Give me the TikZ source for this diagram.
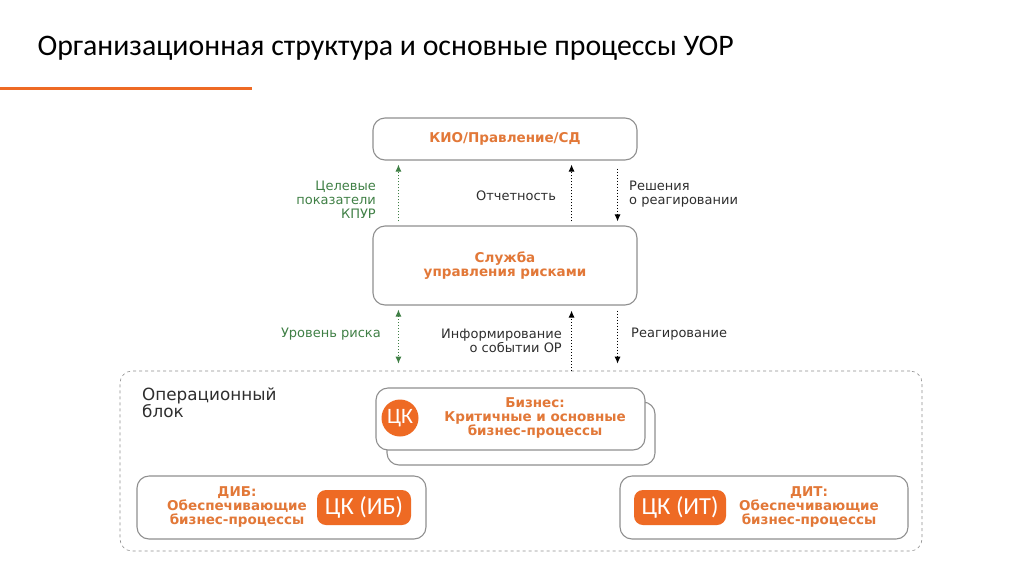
\documentclass[tikz,border=0pt]{standalone}
\usepackage{fontspec}
\setmainfont{DejaVu Sans}
\newfontfamily\titlefont{Carlito}
\usetikzlibrary{arrows.meta}
\definecolor{uorange}{HTML}{EE6A24}
\definecolor{utext}{HTML}{E27838}
\definecolor{ugreen}{HTML}{3F7F45}
\definecolor{ugrey}{HTML}{8F8F8F}
\definecolor{udark}{HTML}{2E2E2E}

\begin{document}
\begin{tikzpicture}[x=1pt,y=-1pt,
	box/.style={draw=ugrey, line width=1.1pt, rounded corners=12pt, fill=white, inner sep=0pt},
	head/.style={text=utext, font=\fontsize{13.5}{14}\selectfont\bfseries, align=center},
	lbl/.style={text=udark, font=\fontsize{13}{14}\selectfont, inner sep=0pt},
	flow/.style={dotted, line width=1pt, -{Latex[length=7pt,width=6pt]}},
	ck/.style={fill=uorange, text=white, inner sep=0pt, font=\titlefont\fontsize{24.5}{26}\selectfont}]

	\useasboundingbox (0,0) rectangle (1024,576);

	% title
	\node (T) [anchor=west, font=\titlefont\fontsize{29.8}{34}\selectfont] at (34,48) {Организационная структура и основные процессы УОР};
	\coordinate (l1) at (0,88);
	\coordinate (l2) at (252,88);
	\draw [uorange, line width=3pt] (l1) -- (l2);

	% boxes
	\node (kio) [box, minimum width=264pt, minimum height=42pt] at (505,139) {};
	\node [head] at (kio) {КИО/Правление/СД};
	\node (srm) [box, minimum width=264pt, minimum height=79pt] at (505,265.5) {};
	\node [head] at (srm) {Служба\\управления рисками};

	\node (op) [draw=ugrey, dashed, line width=0.6pt, rounded corners=12pt, minimum width=802pt, minimum height=180pt] at (521,461) {};
	\node (opl) [lbl, anchor=north west, align=left, font=\fontsize{16.8}{17}\selectfont] at (142,388) {Операционный\\блок};

	\node (bz2) [box, minimum width=268pt, minimum height=63pt] at (521,433.5) {};
	\node (bz) [box, minimum width=269pt, minimum height=62pt] at (510.5,419) {};
	\node (bzt) [head] at (535,418) {Бизнес:\\Критичные и основные\\бизнес-процессы};
	\node (bzc) [ck, circle, minimum size=37pt, font=\titlefont\fontsize{22}{24}\selectfont] at (400,418) {ЦК};

	\node (dib) [box, minimum width=289pt, minimum height=63pt] at (281.5,507.5) {};
	\node (dibt) [head] at (237,507) {ДИБ:\\Обеспечивающие\\бизнес-процессы};
	\node (dibc) [ck, rounded corners=9pt, minimum width=94pt, minimum height=35pt] at (364,507.5) {ЦК (ИБ)};

	\node (dit) [box, minimum width=288pt, minimum height=63pt] at (764,507.5) {};
	\node (ditt) [head] at (809,507) {ДИТ:\\Обеспечивающие\\бизнес-процессы};
	\node (ditc) [ck, rounded corners=9pt, minimum width=92pt, minimum height=35pt] at (680,507.5) {ЦК (ИТ)};

	% arrows top
	\draw [flow, ugreen, shorten <=4pt, shorten >=4pt] ([xshift=26pt]srm.north west) -- ([xshift=26pt]kio.south west);
	\draw [flow, black, shorten <=4pt, shorten >=4pt] ([xshift=-66pt]srm.north east) -- ([xshift=-66pt]kio.south east);
	\draw [flow, black, shorten <=8pt, shorten >=4pt] ([xshift=-20pt]kio.south east) -- ([xshift=-20pt]srm.north east);

	% arrows bottom
	\draw [flow, ugreen, {Latex[length=7pt,width=6pt]}-{Latex[length=7pt,width=6pt]}, shorten <=4pt, shorten >=7pt] ([xshift=26pt]srm.south west) -- ([xshift=26pt]srm.south west |- op.north);
	\draw [flow, black, shorten >=5pt] ([xshift=-66pt]srm.south east |- op.north) -- ([xshift=-66pt]srm.south east);
	\draw [flow, black, shorten <=5pt, shorten >=7pt] ([xshift=-20pt]srm.south east) -- ([xshift=-20pt]srm.south east |- op.north);

	% labels
	\node (L1) [lbl, text=ugreen, anchor=east, align=right] at (376,200) {Целевые\\показатели\\КПУР};
	\node (L2) [lbl] at (516,196) {Отчетность};
	\node (L3) [lbl, anchor=west, align=left] at (629,194) {Решения\\о реагировании};
	\node (L4) [lbl, text=ugreen, anchor=east] at (381,334) {Уровень риска};
	\node (L5) [lbl, anchor=east, align=right] at (562,341) {Информирование\\о событии ОР};
	\node (L6) [lbl, anchor=west] at (631,334) {Реагирование};

\end{tikzpicture}
\end{document}
